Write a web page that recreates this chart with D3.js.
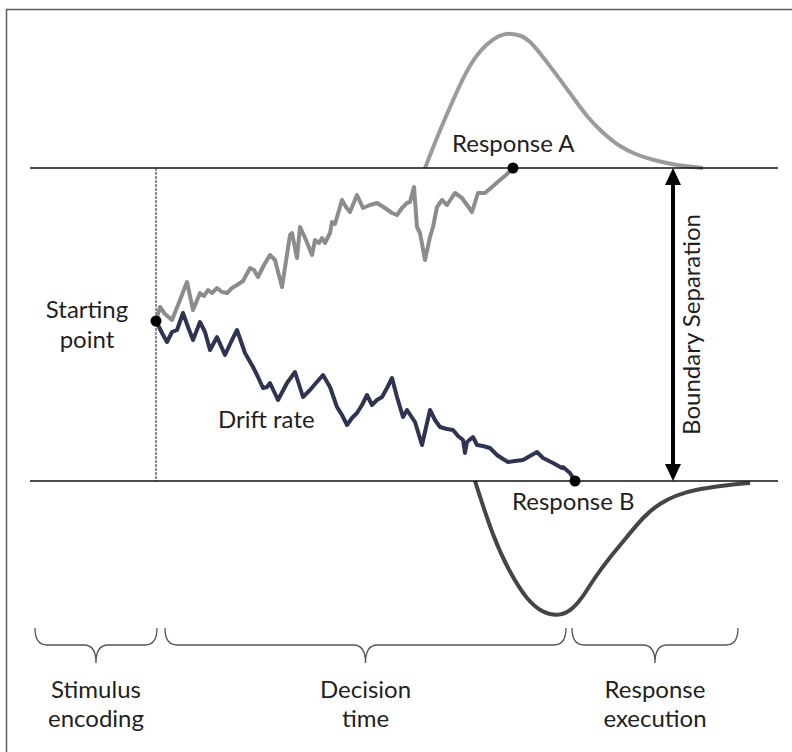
<!DOCTYPE html>
<html>
<head>
<meta charset="utf-8">
<script src="https://cdn.jsdelivr.net/npm/d3@7"></script>
<style>
  html, body { margin: 0; padding: 0; background: #fff; }
  svg { display: block; }
  text { font-family: Lato, "Open Sans", sans-serif; fill: #1f1f1f; }
</style>
</head>
<body>
<svg id="chart" width="792" height="752"></svg>
<script>
// ---- Data (time units since end of stimulus encoding, evidence units above lower boundary) ----
const boundaryA = 313;          // upper boundary (evidence)
const boundaryB = 0;            // lower boundary (evidence)
const startingPoint = 160;      // starting evidence

// Random walk reaching Response A (gray)
const walkA = [
  [0,160],[4,174],[9,167],[16,161],[24,181],[31,199],[37,171],[44,188],[48,185],[52,191],
  [56,188],[61,193],[66,189],[71,188],[76,193],[81,196],[87,200],[94,213],[98,211],[102,204],
  [108,216],[114,226],[119,221],[126,194],[134,246],[136,248],[141,223],[144,254],[150,241],[156,226],
  [159,241],[163,238],[166,243],[169,238],[174,248],[176,259],[179,257],[186,281],[190,274],[194,269],
  [201,286],[207,273],[214,276],[221,278],[229,273],[236,268],[241,266],[246,273],[251,278],[254,279],
  [258,294],[261,254],[264,248],[269,221],[274,244],[277,254],[281,274],[286,281],[291,276],[299,288],
  [306,283],[311,276],[316,269],[322,288],[329,288],[336,294],[344,301],[350,306],[357,313]
];

// Random walk reaching Response B (dark)
const walkB = [
  [0,160],[6,148],[11,139],[16,149],[21,151],[27,168],[32,154],[37,141],[44,159],[49,149],
  [54,131],[61,144],[69,126],[75,139],[81,151],[89,128],[97,114],[102,104],[107,93],[111,94],
  [114,98],[122,81],[131,98],[139,109],[147,84],[154,91],[160,98],[167,106],[174,94],[181,74],
  [186,66],[191,56],[196,63],[201,68],[206,76],[211,86],[216,76],[221,81],[226,84],[231,93],
  [236,103],[241,84],[247,64],[251,71],[259,59],[266,36],[274,71],[279,61],[284,54],[291,52],
  [297,51],[302,45],[307,41],[309,28],[311,39],[317,44],[321,36],[327,35],[334,33],[341,26],
  [347,22],[352,19],[359,20],[367,21],[374,25],[381,29],[387,23],[397,18],[406,13],[407,14],
  [414,8],[419,0]
];

// Response time distributions (time, density)
const rtDistA = [
  [269,0],[284,38],[297,68],[314,105],[331,125],[344,133],[352,135],[364,133],[374,128],[397,98],
  [414,75],[431,51],[447,35],[464,21],[481,13],[497,8],[519,3],[547,0]
];
const rtDistB = [
  [319,0],[337,56],[354,92],[371,119],[387,132],[401,135],[414,131],[427,116],[437,99],[454,76],
  [471,56],[487,36],[504,22],[521,14],[537,9],[571,4],[594,2]
];

// Stages shown under the chart
const stageNames = [["Stimulus","encoding"],["Decision","time"],["Response","execution"]];
const stageStart = [-121, 9, 416];
const stageEnd   = [1, 410, 582];

// ---- Scales ----
const svg = d3.select("#chart");
const x = d3.scaleLinear().domain([-126, 622]).range([30, 778]);
const y = d3.scaleLinear().domain([0, 313]).range([481, 168]);
const dens = d3.scaleLinear().domain([0, 135]).range([0, 135]);

// Frame
svg.append("rect").attr("x", 6.5).attr("y", 9.5).attr("width", 800).attr("height", 760)
  .attr("fill", "none").attr("stroke", "#5a5a5a").attr("stroke-width", 1.5);

// RT distributions
svg.append("path").datum(rtDistA)
  .attr("d", d3.line().x(d => x(d[0])).y(d => y(boundaryA) - dens(d[1])).curve(d3.curveBasis))
  .attr("fill", "none").attr("stroke", "#9b9b9b").attr("stroke-width", 4);
svg.append("path").datum(rtDistB)
  .attr("d", d3.line().x(d => x(d[0])).y(d => y(boundaryB) + dens(d[1])).curve(d3.curveBasis))
  .attr("fill", "none").attr("stroke", "#454545").attr("stroke-width", 4);

// Boundaries
[boundaryA, boundaryB].forEach(b => {
  svg.append("line").attr("x1", x(-126)).attr("x2", x(622))
    .attr("y1", y(b)).attr("y2", y(b))
    .attr("stroke", "#111").attr("stroke-width", 1.5);
});

// Dashed onset line
svg.append("line").attr("x1", x(0)).attr("x2", x(0))
  .attr("y1", y(boundaryA)).attr("y2", y(boundaryB))
  .attr("stroke", "#222").attr("stroke-width", 1).attr("stroke-dasharray", "3,1");

// Random walks
const walkLine = d3.line().x(d => x(d[0])).y(d => y(d[1]));
svg.append("path").datum(walkA).attr("d", walkLine)
  .attr("fill", "none").attr("stroke", "#8c8c8c").attr("stroke-width", 4)
  .attr("stroke-linejoin", "round");
svg.append("path").datum(walkB).attr("d", walkLine)
  .attr("fill", "none").attr("stroke", "#2e3452").attr("stroke-width", 4)
  .attr("stroke-linejoin", "round");

// Points
const pts = [[0, startingPoint], walkA[walkA.length - 1], walkB[walkB.length - 1]];
svg.selectAll("circle.pt").data(pts).enter().append("circle")
  .attr("cx", d => x(d[0])).attr("cy", d => y(d[1])).attr("r", 5.5).attr("fill", "#000");

// Boundary separation arrow
const ax = 673;
svg.append("line").attr("x1", ax).attr("x2", ax)
  .attr("y1", y(boundaryA) + 14).attr("y2", y(boundaryB) - 14)
  .attr("stroke", "#000").attr("stroke-width", 4);
svg.append("path")
  .attr("d", `M${ax},${y(boundaryA)} L${ax - 8},${y(boundaryA) + 17} L${ax + 8},${y(boundaryA) + 17} Z`)
  .attr("fill", "#000");
svg.append("path")
  .attr("d", `M${ax},${y(boundaryB)} L${ax - 8},${y(boundaryB) - 17} L${ax + 8},${y(boundaryB) - 17} Z`)
  .attr("fill", "#000");
svg.append("text").attr("transform", `translate(700,${(y(boundaryA) + y(boundaryB)) / 2}) rotate(-90)`)
  .attr("text-anchor", "middle").attr("font-size", 24).text("Boundary Separation");

// Labels
const fs = 24;
svg.append("text").attr("x", 452).attr("y", 152).attr("font-size", fs).text("Response A");
svg.append("text").attr("x", 512).attr("y", 510).attr("font-size", fs).text("Response B");
svg.append("text").attr("x", 218).attr("y", 428).attr("font-size", fs).text("Drift rate");
svg.append("text").attr("x", 87).attr("y", 318).attr("text-anchor", "middle").attr("font-size", fs).text("Starting");
svg.append("text").attr("x", 87).attr("y", 348).attr("text-anchor", "middle").attr("font-size", fs).text("point");

// Braces and stage labels
const y0 = 628, y1 = 645, y2 = 663;
stageNames.forEach((names, i) => {
  const a = x(stageStart[i]), b = x(stageEnd[i]), m = (a + b) / 2;
  const p = `M${a},${y0} Q${a},${y1} ${a + 12},${y1} L${m - 12},${y1} Q${m},${y1} ${m},${y2} ` +
            `Q${m},${y1} ${m + 12},${y1} L${b - 12},${y1} Q${b},${y1} ${b},${y0}`;
  svg.append("path").attr("d", p).attr("fill", "none").attr("stroke", "#555").attr("stroke-width", 1.3);
  svg.append("text").attr("x", m).attr("y", 698).attr("text-anchor", "middle").attr("font-size", fs).text(names[0]);
  svg.append("text").attr("x", m).attr("y", 727).attr("text-anchor", "middle").attr("font-size", fs).text(names[1]);
});
</script>
</body>
</html>
